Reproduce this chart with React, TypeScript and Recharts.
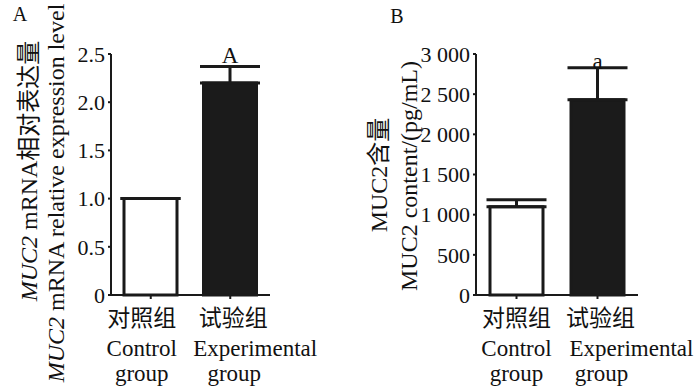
import React from 'react';
import { BarChart, Bar, XAxis, YAxis, Cell, ErrorBar, LabelList, Label } from 'recharts';

// group names (Chinese + English, two lines)
const groupsCn = ['对照组', '试验组'];
const groupsEn = [['Control', 'group'], ['Experimental', 'group']];

// panel A: MUC2 mRNA relative expression
const mrnaMean = [1.0, 2.2];
const mrnaErr = [0, 0.17];
const mrnaSig = ['', 'A'];
const mrnaTicks = [0, 0.5, 1.0, 1.5, 2.0, 2.5];

// panel B: MUC2 content (pg/mL)
const contentMean = [1100, 2430];
const contentErr = [85, 400];
const contentSig = ['', 'a'];
const contentTicks = [0, 500, 1000, 1500, 2000, 2500, 3000];

const FILLS = ['#ffffff', '#1b1b1b'];
const INK = '#1a1a1a';
const FONT = "'Liberation Serif', 'Times New Roman', 'Noto Sans CJK SC', serif";

const buildRows = (mean: number[], err: number[], sig: string[]) =>
    groupsCn.map((g, i) => ({ name: g, value: mean[i], err: [0, err[i]], sig: sig[i] }));

const mrnaData = buildRows(mrnaMean, mrnaErr, mrnaSig);
const contentData = buildRows(contentMean, contentErr, contentSig);

const fmtMrna = (v: number) => (v === 0 ? '0' : v.toFixed(1));
const fmtContent = (v: number) =>
    v >= 1000 ? `${Math.floor(v / 1000)} ${String(v % 1000).padStart(3, '0')}` : String(v);

// --- x tick: Chinese name + English two lines ---
const GroupTick = ({ x, y, payload, index, shift }: any) => {
    const i = index ?? groupsCn.indexOf(payload.value);
    const en = groupsEn[i];
    const first = i === 0;
    return (
        <g fontFamily={FONT} fill="#111">
            <text x={first ? x + shift : x + 3} y={y + 25} textAnchor="middle" fontSize={23}>
                {payload.value}
            </text>
            <text
                x={first ? x + shift : x - 28 + shift}
                y={y + 55}
                textAnchor={first ? 'middle' : 'start'}
                fontSize={23}
            >
                {en[0]}
            </text>
            <text x={first ? x + shift : x + 4} y={y + 80} textAnchor="middle" fontSize={23}>
                {en[1]}
            </text>
        </g>
    );
};

// significance letter sitting over the error bar
const makeSigLabel = (mean: number[], err: number[], lift: number) => (props: any) => {
    const { x, y, width, height, value, index } = props;
    if (!value) return null;
    const perUnit = height / mean[index];
    const top = y - err[index] * perUnit;
    return (
        <text x={x + width / 2} y={top - lift} textAnchor="middle" fontSize={23} fontFamily={FONT} fill="#111">
            {value}
        </text>
    );
};

const TitleA = () => (
    <g fontFamily={FONT} fontSize={24} fill="#111">
        <text x={20} y={21} textAnchor="middle" fontSize={20}>A</text>
        <text transform="translate(37,171) rotate(-90)" textAnchor="middle">
            <tspan fontStyle="italic">MUC2</tspan> mRNA相对表达量
        </text>
        <text transform="translate(64,193) rotate(-90)" textAnchor="middle">
            <tspan fontStyle="italic">MUC2</tspan> mRNA relative expression level
        </text>
    </g>
);

const TitleB = () => (
    <g fontFamily={FONT} fontSize={24} fill="#111">
        <text x={47} y={23} textAnchor="middle" fontSize={20}>B</text>
        <text transform="translate(37,175) rotate(-90)" textAnchor="middle">MUC2含量</text>
        <text transform="translate(67,176) rotate(-90)" textAnchor="middle">MUC2 content/(pg/mL)</text>
    </g>
);

interface PanelProps {
    data: any[];
    ticks: number[];
    fmt: (v: number) => string;
    mean: number[];
    err: number[];
    yWidth: number;
    right: number;
    shift: number;
    lift: number;
    title: React.ReactNode;
}

const Panel = ({ data, ticks, fmt, mean, err, yWidth, right, shift, lift, title }: PanelProps) => (
    <BarChart
        width={350}
        height={389}
        data={data}
        margin={{ top: 54, right, bottom: 4, left: 0 }}
        barCategoryGap={0}
    >
        <XAxis
            dataKey="name"
            height={90}
            axisLine={{ stroke: INK, strokeWidth: 2 }}
            tickLine={{ stroke: INK, strokeWidth: 2 }}
            tickSize={4}
            tickMargin={2}
            interval={0}
            tick={<GroupTick shift={shift} />}
        />
        <YAxis
            type="number"
            width={yWidth}
            domain={[ticks[0], ticks[ticks.length - 1]]}
            ticks={ticks}
            interval={0}
            tickFormatter={fmt}
            axisLine={{ stroke: INK, strokeWidth: 2 }}
            tickLine={{ stroke: INK, strokeWidth: 2 }}
            tickSize={3}
            tickMargin={3}
            tick={{ fill: '#111', fontSize: 22, fontFamily: FONT }}
        >
            <Label content={() => title} />
        </YAxis>
        <Bar dataKey="value" barSize={53} stroke={INK} strokeWidth={3} isAnimationActive={false}>
            {data.map((d, i) => (
                <Cell key={`c-${i}`} fill={FILLS[i % FILLS.length]} />
            ))}
            <ErrorBar dataKey="err" width={30} stroke={INK} strokeWidth={3} isAnimationActive={false} />
            <LabelList dataKey="sig" content={makeSigLabel(mean, err, lift)} />
        </Bar>
    </BarChart>
);

export default function App() {
    return (
        <div style={{ position: 'absolute', left: 0, top: 0, width: 700, height: 389, background: '#fff', display: 'flex' }}>
            <Panel
                data={mrnaData}
                ticks={mrnaTicks}
                fmt={fmtMrna}
                mean={mrnaMean}
                err={mrnaErr}
                yWidth={111}
                right={80}
                shift={-9}
                lift={4}
                title={<TitleA />}
            />
            <Panel
                data={contentData}
                ticks={contentTicks}
                fmt={fmtContent}
                mean={contentMean}
                err={contentErr}
                yWidth={126}
                right={62}
                shift={0}
                lift={-1}
                title={<TitleB />}
            />
        </div>
    );
}
